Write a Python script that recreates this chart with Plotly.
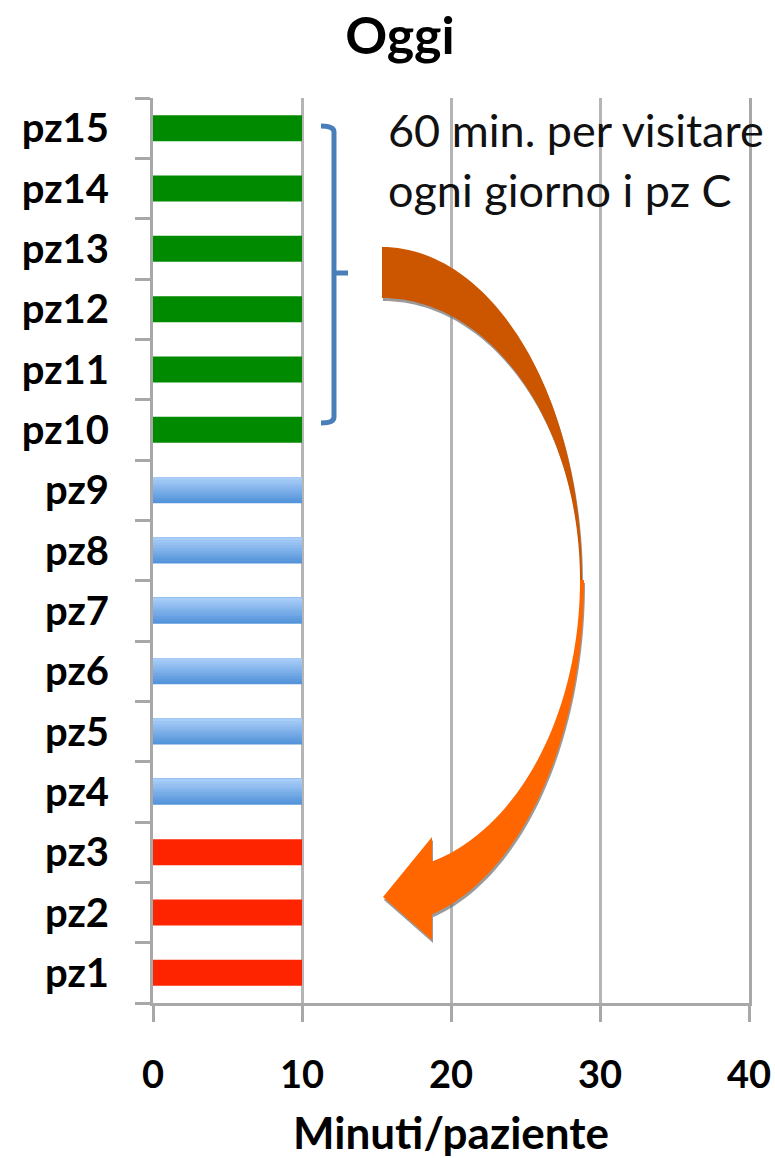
import numpy as np
import plotly.graph_objects as go

# --- data -------------------------------------------------------------
patients = [f"pz{i}" for i in range(1, 16)]
minutes = [10] * 15
red_group = ["pz1", "pz2", "pz3"]
blue_group = ["pz4", "pz5", "pz6", "pz7", "pz8", "pz9"]
green_group = ["pz10", "pz11", "pz12", "pz13", "pz14", "pz15"]
x_ticks = [0, 10, 20, 30, 40]

minutes_by_patient = dict(zip(patients, minutes))

W, H = 775, 1158
L, R, T, B = 153, 26, 98, 155
PW, PH = W - L - R, H - T - B

FONT = "Lato"
GRID = "#B5B5B5"
AXIS = "#A8A8A8"
BAR_W = 0.43


def paper(px, py):
    """Pixel position on the page -> paper coordinates."""
    return (px - L) / PW, (H - B - py) / PH


def path_from(points, close=True):
    parts = []
    for i, (px, py) in enumerate(points):
        x, y = paper(px, py)
        parts.append(("M" if i == 0 else "L") + f"{x:.5f},{y:.5f}")
    return " ".join(parts) + (" Z" if close else "")


fig = go.Figure()

# solid red and green bars
for group, color in ((red_group, "#FF2400"), (green_group, "#008A00")):
    fig.add_trace(go.Bar(
        y=group, x=[minutes_by_patient[p] for p in group], orientation="h",
        width=BAR_W, offset=-BAR_W / 2,
        marker=dict(color=color, line=dict(width=0)),
        showlegend=False, hoverinfo="x+y",
    ))

# blue bars with a soft vertical gradient (stacked overlays, light on top)
n_strips = 10
dark = np.array([84, 148, 218])
light = np.array([168, 205, 248])
strip = BAR_W / n_strips
for k in range(n_strips):
    c = dark + (light - dark) * (k / (n_strips - 1))
    fig.add_trace(go.Bar(
        y=blue_group, x=[minutes_by_patient[p] for p in blue_group], orientation="h",
        width=BAR_W - k * strip, offset=-BAR_W / 2 + k * strip,
        marker=dict(color=f"rgb({int(c[0])},{int(c[1])},{int(c[2])})", line=dict(width=0)),
        showlegend=False, hoverinfo="x+y" if k == 0 else "skip",
    ))

# --- curved arrow ------------------------------------------------------
cx, cy = 382, 580
t_up = np.linspace(0, np.pi / 2, 60)
outer_up = [(cx + 200 * np.sin(t), cy - 333 * np.cos(t)) for t in t_up]
inner_up = [(cx + 198 * np.sin(t), cy - 282 * np.cos(t)) for t in t_up[::-1]]
back_part = outer_up + inner_up

t_in_end = np.arcsin(50 / 198)
t_out_end = np.arcsin(50 / 202)
inner_low = [(cx + 198 * np.sin(t), cy + 291 * np.cos(t))
             for t in np.linspace(np.pi / 2, t_in_end, 60)]
outer_low = [(cx + 202 * np.sin(t), cy + 345 * np.cos(t))
             for t in np.linspace(t_out_end, np.pi / 2, 60)]
head = [(432, 837), (383, 897), (432, 940)]
front_part = inner_low + head + outer_low


def shifted(points, dx, dy):
    return [(x + dx, y + dy) for x, y in points]


shapes = []
for pts in (back_part, front_part):
    shapes.append(dict(type="path", xref="paper", yref="paper", layer="above",
                       path=path_from(shifted(pts, 1, 3)),
                       fillcolor="rgba(120,120,120,0.75)", line=dict(width=0)))
shapes.append(dict(type="path", xref="paper", yref="paper", layer="above",
                   path=path_from(back_part), fillcolor="#CC5500", line=dict(width=0)))
shapes.append(dict(type="path", xref="paper", yref="paper", layer="above",
                   path=path_from(front_part), fillcolor="#FF6600", line=dict(width=0)))

# bracket grouping the C patients
def bracket_path():
    x0, _ = paper(321, 0)
    xv, _ = paper(334, 0)
    xr, _ = paper(348, 0)
    _, ytop = paper(0, 126)
    _, ymid = paper(0, 273)
    _, ybot = paper(0, 423)
    _, ytop2 = paper(0, 132)
    _, ybot2 = paper(0, 417)
    return (f"M{x0:.5f},{ytop:.5f} Q{xv:.5f},{ytop:.5f} {xv:.5f},{ytop2:.5f} "
            f"L{xv:.5f},{ybot2:.5f} Q{xv:.5f},{ybot:.5f} {x0:.5f},{ybot:.5f} "
            f"M{xv:.5f},{ymid:.5f} L{xr:.5f},{ymid:.5f}")


shapes.append(dict(type="path", xref="paper", yref="paper", layer="above",
                   path=bracket_path(), line=dict(color="#4A7EBB", width=5)))

# --- annotation text ---------------------------------------------------
annotations = []
for text, py in (("60 min. per visitare", 130), ("ogni giorno i pz C", 190)):
    ax, ay = paper(386, py)
    annotations.append(dict(text=text, x=ax, y=ay, xref="paper", yref="paper",
                            xanchor="left", yanchor="middle", showarrow=False,
                            font=dict(family=FONT, size=45, color="#111111")))

fig.update_layout(
    width=W, height=H,
    margin=dict(l=L, r=R, t=T, b=B, autoexpand=False),
    paper_bgcolor="white", plot_bgcolor="white",
    barmode="overlay",
    title=dict(text="Oggi", x=400 / W, xanchor="center", y=1 - 36 / H, yanchor="middle",
               xref="container", yref="container",
               font=dict(family=FONT, size=52, color="black", weight="bold")),
    xaxis=dict(
        range=[0, 40], tickvals=x_ticks, ticktext=[str(v) for v in x_ticks],
        showgrid=True, gridcolor=GRID, gridwidth=3, zeroline=False,
        showline=True, linecolor=AXIS, linewidth=3,
        ticks="outside", ticklen=16, tickwidth=3, tickcolor=AXIS,
        ticklabelstandoff=20,
        tickfont=dict(family=FONT, size=38, color="black", weight="bold"),
        title=dict(text="Minuti/paziente", standoff=30,
                   font=dict(family=FONT, size=44, color="black", weight="bold")),
    ),
    yaxis=dict(
        type="category", categoryorder="array", categoryarray=patients,
        range=[-0.5, 14.5], showgrid=False, zeroline=False,
        showline=True, mirror=True, linecolor=AXIS, linewidth=3,
        ticks="outside", tickson="boundaries", ticklen=15, tickwidth=3, tickcolor=AXIS,
        ticklabelstandoff=33,
        tickfont=dict(family=FONT, size=40, color="black", weight="bold"),
    ),
    shapes=shapes,
    annotations=annotations,
)

fig.write_html("out.html")
